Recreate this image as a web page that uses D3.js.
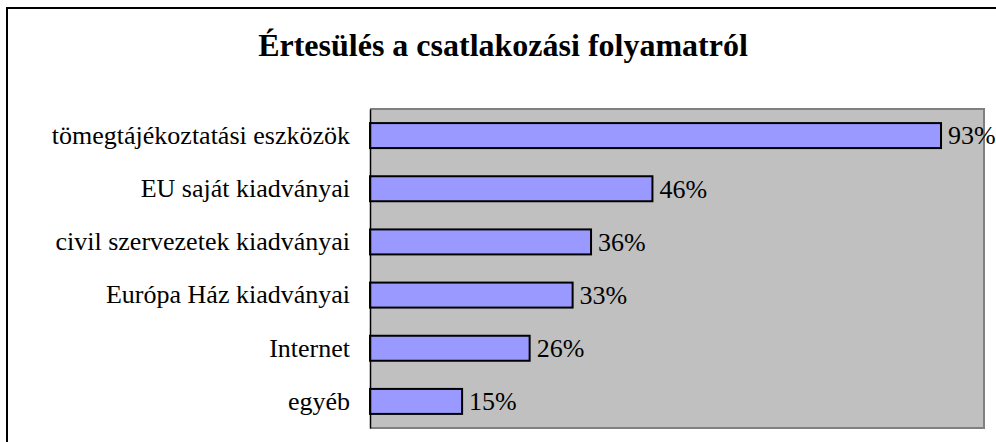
<!DOCTYPE html>
<html>
<head>
<meta charset="utf-8">
<script src="https://cdn.jsdelivr.net/npm/d3@7"></script>
<style>
  body { margin: 0; background: #fff; }
  svg { display: block; }
  text { font-family: "Liberation Serif", "Times New Roman", serif; fill: #000; }
</style>
</head>
<body>
<script>
let title = "Értesülés a csatlakozási folyamatról"
let categories = ["tömegtájékoztatási eszközök", "EU saját kiadványai", "civil szervezetek kiadványai", "Európa Ház kiadványai", "Internet", "egyéb"]
let values = [0.93, 0.46, 0.36, 0.33, 0.26, 0.15]

let w = 996
let h = 442
let svg = d3.select("body").append("svg")
    .attr("width", w)
    .attr("height", h)

// outer frame, only top and left edge are in view
svg.append("rect")
    .attr("x", 7)
    .attr("y", 8)
    .attr("width", w + 20)
    .attr("height", h + 20)
    .attr("fill", "none")
    .attr("stroke", "#000")
    .attr("stroke-width", 2)

let pLeft = 370, pRight = 984, pTop = 109, pBottom = 428

let xScale = d3.scaleLinear()
    .domain([0, 1])
    .range([pLeft, pRight])
let yScale = d3.scaleBand()
    .domain(categories)
    .range([pTop, pBottom])
    .paddingInner(0.53)
    .paddingOuter(0.265)

// plot area
svg.append("rect")
    .attr("x", pLeft)
    .attr("y", pTop)
    .attr("width", pRight - pLeft)
    .attr("height", pBottom - pTop)
    .attr("fill", "#c0c0c0")
svg.append("path")
    .attr("d", `M${pLeft},${pTop}H${pRight}V${pBottom}H${pLeft}`)
    .attr("fill", "none")
    .attr("stroke", "#808080")
    .attr("stroke-width", 2)

svg.append("text")
    .attr("x", 503)
    .attr("y", 56)
    .attr("text-anchor", "middle")
    .style("font-size", "32px")
    .style("font-weight", "bold")
    .text(title)

let data = categories.map((c, i) => ({cat: c, val: values[i]}))

svg.selectAll("rect.bar")
    .data(data)
    .enter()
    .append("rect")
    .attr("class", "bar")
    .attr("x", xScale(0))
    .attr("y", d => yScale(d.cat))
    .attr("width", d => xScale(d.val) - xScale(0))
    .attr("height", yScale.bandwidth())
    .attr("fill", "#9999ff")
    .attr("stroke", "#000")
    .attr("stroke-width", 2)

svg.selectAll("text.val")
    .data(data)
    .enter()
    .append("text")
    .attr("class", "val")
    .attr("x", d => xScale(d.val) + 7)
    .attr("y", d => yScale(d.cat) + yScale.bandwidth() / 2)
    .attr("dy", "0.34em")
    .style("font-size", "26px")
    .text(d => Math.round(d.val * 100) + "%")

let yAxis = d3.axisLeft(yScale)
    .tickSize(0)
    .tickPadding(20)
svg.append("g")
    .attr("transform", `translate(${pLeft},0)`)
    .call(yAxis)
    .call(g => g.select(".domain").attr("stroke", "#000").attr("stroke-width", 1.5))
    .call(g => g.selectAll("text")
        .style("font-size", "26px")
        .style("font-family", '"Liberation Serif", "Times New Roman", serif')
        .attr("fill", "#000"))
</script>
</body>
</html>
